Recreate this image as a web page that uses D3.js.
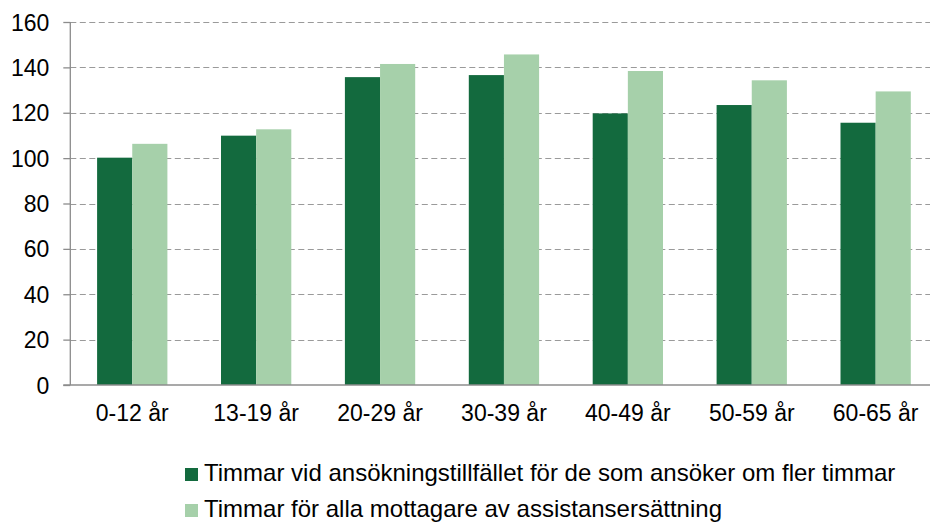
<!DOCTYPE html>
<html><head><meta charset="utf-8">
<script src="https://cdn.jsdelivr.net/npm/d3@7"></script>
<style>
html,body{margin:0;padding:0;background:#fff;}
text{font-family:"Liberation Sans",Arial,sans-serif;fill:#000;}
</style></head>
<body>
<svg id="chart" width="930" height="528"></svg>
<script>
const categories = ["0-12 år","13-19 år","20-29 år","30-39 år","40-49 år","50-59 år","60-65 år"];
const seriesNames = ["Timmar vid ansökningstillfället för de som ansöker om fler timmar","Timmar för alla mottagare av assistansersättning"];
const seriesApplicants = [100.2, 109.9, 135.7, 136.6, 119.7, 123.4, 115.6];
const seriesAll = [106.3, 112.7, 141.5, 145.7, 138.4, 134.3, 129.4];
const yTicks = [0,20,40,60,80,100,120,140,160];
const colors = ["#136A3E","#A6D0AA"];

const svg = d3.select("#chart");
const mLeft = 70.3, mRight = 937.6, mTop = 22, mBottom = 385;
const x = d3.scaleBand().domain(categories).range([mLeft, mRight]).paddingInner(0.4326).paddingOuter(0.2163);
const sub = d3.scaleBand().domain([0,1]).range([0, x.bandwidth()]);
const y = d3.scaleLinear().domain([0,160]).range([mBottom, mTop]);

// gridlines
svg.append("g").selectAll("line").data(yTicks.filter(d=>d>0)).join("line")
  .attr("x1", mLeft).attr("x2", 930).attr("y1", d=>Math.round(y(d))+0.5).attr("y2", d=>Math.round(y(d))+0.5)
  .attr("stroke","#9a9a9a").attr("stroke-width",1.2).attr("stroke-dasharray","6,3.5");

// bars
const data = categories.map((c,i)=>({c, v:[seriesApplicants[i], seriesAll[i]]}));
const g = svg.append("g");
data.forEach(d=>{
  d.v.forEach((v,k)=>{
    g.append("rect")
      .attr("x", x(d.c)+sub(k)).attr("width", sub.bandwidth())
      .attr("y", y(v)).attr("height", y(0)-y(v))
      .attr("fill", colors[k]);
  });
});

// y axis
const yAxis = d3.axisLeft(y).tickValues(yTicks).tickSize(7).tickPadding(14).tickFormat(d3.format("d"));
const ya = svg.append("g").attr("transform",`translate(${mLeft},0)`).call(yAxis);
ya.select(".domain").attr("stroke","#8c8c8c").attr("stroke-width",1.3).attr("d",`M-0,${mBottom}V${mTop}`);
ya.selectAll(".tick line").attr("stroke","#8c8c8c").attr("stroke-width",1.3);
ya.selectAll(".tick text").attr("font-size","23px").attr("font-family","Liberation Sans, Arial, sans-serif").attr("fill","#000").attr("dy","0.35em");

// x axis
const xAxis = d3.axisBottom(x).tickSize(0).tickPadding(20);
const xa = svg.append("g").attr("transform",`translate(0,${mBottom})`).call(xAxis);
xa.select(".domain").attr("stroke","#8c8c8c").attr("stroke-width",1.5).attr("d",`M${mLeft-7},0H930`);
xa.selectAll(".tick text").attr("font-size","23px").attr("font-family","Liberation Sans, Arial, sans-serif").attr("fill","#000");

// legend
const leg = svg.append("g");
seriesNames.forEach((n,k)=>{
  const yy = 468 + k*36;
  leg.append("rect").attr("x",185).attr("y",yy).attr("width",13).attr("height",13).attr("fill",colors[k]);
  leg.append("text").attr("x",204).attr("y",yy+13).attr("font-size","24px").text(n);
});
</script>
</body></html>
